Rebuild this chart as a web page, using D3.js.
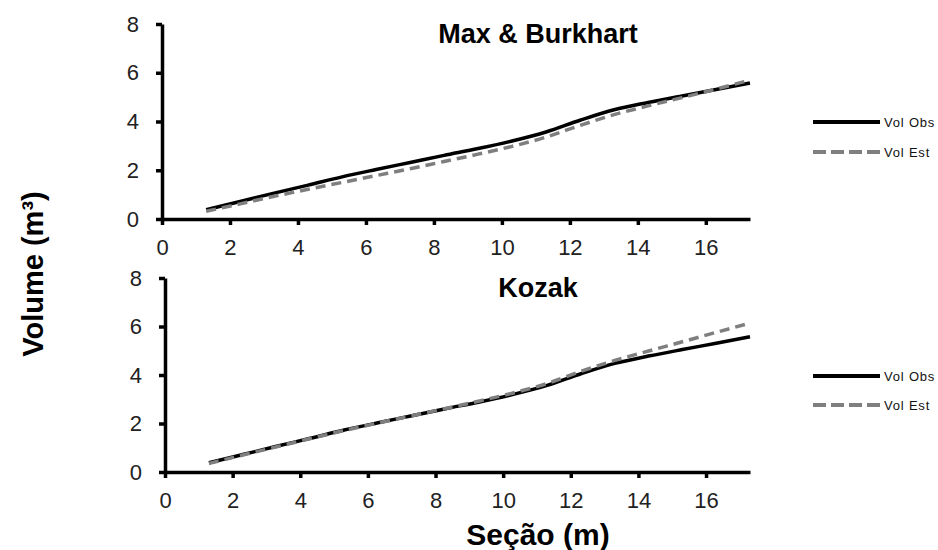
<!DOCTYPE html>
<html>
<head>
<meta charset="utf-8">
<script src="https://cdn.jsdelivr.net/npm/d3@7"></script>
<style>
  html, body { margin: 0; padding: 0; background: #fff; }
  svg { display: block; }
  text { font-family: "Liberation Sans", Arial, sans-serif; }
</style>
</head>
<body>
<script>
// ---------- data ----------
const secao = [1.3, 2.3, 3.3, 4.3, 5.3, 6.3, 7.3, 8.3, 9.3, 10.3, 11.3, 12.3, 13.3, 14.3, 15.3, 16.3, 17.3];
const volObs = [0.38, 0.72, 1.06, 1.39, 1.73, 2.03, 2.32, 2.61, 2.89, 3.20, 3.57, 4.05, 4.48, 4.78, 5.05, 5.31, 5.58];
const volEstMaxBurkhart = [0.32, 0.62, 0.93, 1.22, 1.50, 1.78, 2.06, 2.36, 2.66, 2.98, 3.36, 3.84, 4.28, 4.64, 4.98, 5.33, 5.70];
const volEstKozak = [0.35, 0.70, 1.04, 1.38, 1.71, 2.02, 2.32, 2.62, 2.93, 3.26, 3.65, 4.15, 4.60, 4.99, 5.37, 5.76, 6.14];
const xTicks = [0, 2, 4, 6, 8, 10, 12, 14, 16];
const yTicks = [0, 2, 4, 6, 8];
const panelTitles = ["Max & Burkhart", "Kozak"];
const legendLabels = ["Vol Obs", "Vol Est"];
const xLabel = "Seção (m)";
const yLabel = "Volume (m³)";

// ---------- layout ----------
const W = 938, H = 550;
const svg = d3.select("body").append("svg").attr("width", W).attr("height", H);
svg.append("rect").attr("width", W).attr("height", H).attr("fill", "#fff");

const panels = [
  { left: 162, right: 750, bottom: 219, top: 24, titleY: 43, legY: [122, 152], est: volEstMaxBurkhart, title: panelTitles[0] },
  { left: 165, right: 750, bottom: 472, top: 278, titleY: 297, legY: [376, 405], est: volEstKozak, title: panelTitles[1] }
];

const obsStyle = { stroke: "#000", width: 3.5, dash: null };
const estStyle = { stroke: "#7f7f7f", width: 3.5, dash: "10,6" };

panels.forEach(p => {
  const x = d3.scaleLinear().domain([0, 17.3]).range([p.left, p.right]);
  const y = d3.scaleLinear().domain([0, 8]).range([p.bottom, p.top]);
  const g = svg.append("g");

  // axes
  const ya = g.append("g").attr("transform", `translate(${p.left},0)`)
    .call(d3.axisLeft(y).tickValues(yTicks).tickFormat(d3.format("d")).tickSize(6).tickSizeOuter(0).tickPadding(17));
  const xa = g.append("g").attr("transform", `translate(0,${p.bottom})`)
    .call(d3.axisBottom(x).tickValues(xTicks).tickFormat(d3.format("d")).tickSize(6).tickSizeOuter(0).tickPadding(14));
  [ya, xa].forEach(a => {
    a.select(".domain").attr("stroke", "#000").attr("stroke-width", 3.5);
    a.selectAll(".tick line").attr("stroke", "#000").attr("stroke-width", 3.5);
    a.selectAll(".tick text").attr("fill", "#222").attr("font-size", 22).attr("font-family", "'Liberation Sans', Arial, sans-serif");
  });

  const line = d3.line().x((d, i) => x(secao[i])).y(d => y(d)).curve(d3.curveMonotoneX);

  g.append("path").datum(volObs).attr("d", line)
    .attr("fill", "none").attr("stroke", obsStyle.stroke).attr("stroke-width", obsStyle.width);
  g.append("path").datum(p.est).attr("d", line)
    .attr("fill", "none").attr("stroke", estStyle.stroke).attr("stroke-width", estStyle.width)
    .attr("stroke-dasharray", estStyle.dash);

  // title
  g.append("text").attr("x", 538).attr("y", p.titleY).attr("text-anchor", "middle")
    .attr("font-size", 27).attr("font-weight", "bold").attr("fill", "#000").text(p.title);

  // legend
  const styles = [{ stroke: "#000", width: 4, dash: null }, { stroke: estStyle.stroke, width: 4, dash: "13,5" }];
  styles.forEach((s, i) => {
    g.append("line").attr("x1", 813).attr("x2", 880).attr("y1", p.legY[i]).attr("y2", p.legY[i])
      .attr("stroke", s.stroke).attr("stroke-width", s.width).attr("stroke-dasharray", s.dash);
    g.append("text").attr("x", 884).attr("y", p.legY[i] + 5).attr("font-size", 13)
      .attr("letter-spacing", 0.8).attr("fill", "#111").text(legendLabels[i]);
  });
});

// axis titles
svg.append("text").attr("x", 538).attr("y", 545).attr("text-anchor", "middle")
  .attr("font-size", 30).attr("font-weight", "bold").text(xLabel);
svg.append("text").attr("transform", "translate(43,274) rotate(-90)").attr("text-anchor", "middle")
  .attr("font-size", 29).attr("font-weight", "bold").text(yLabel);
</script>
</body>
</html>
